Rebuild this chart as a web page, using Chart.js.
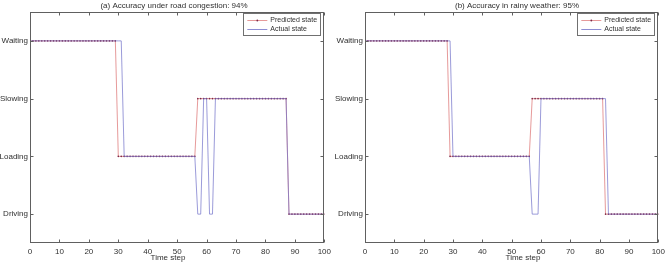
<!DOCTYPE html>
<html><head><meta charset="utf-8">
<script src="https://cdn.jsdelivr.net/npm/chart.js@4.4.1/dist/chart.umd.min.js"></script>
<style>
html,body{margin:0;padding:0;background:#fff;width:669px;height:263px;overflow:hidden}
canvas{position:absolute;top:0}
</style></head><body>
<canvas id="ca" style="left:0px" width="335" height="263"></canvas>
<canvas id="cb" style="left:335px" width="334" height="263"></canvas>
<script>
const stateNames = ['Driving', 'Loading', 'Slowing', 'Waiting'];
const xTickValues = [0, 10, 20, 30, 40, 50, 60, 70, 80, 90, 100];
const timeSteps = Array.from({length: 101}, (_, i) => i);

const titleA = '(a) Accuracy under road congestion: 94%';
const titleB = '(b) Accuracy in rainy weather: 95%';
const xLabel = 'Time step';
const legendLabels = ['Predicted state', 'Actual state'];

// state index: 0 Driving, 1 Loading, 2 Slowing, 3 Waiting
const predictedA = [
  3,3,3,3,3,3,3,3,3,3,
  3,3,3,3,3,3,3,3,3,3,
  3,3,3,3,3,3,3,3,3,3,
  1,1,1,1,1,1,1,1,1,1,
  1,1,1,1,1,1,1,1,1,1,
  1,1,1,1,1,1,1,2,2,2,
  2,2,2,2,2,2,2,2,2,2,
  2,2,2,2,2,2,2,2,2,2,
  2,2,2,2,2,2,2,2,0,0,
  0,0,0,0,0,0,0,0,0,0,
  0];
const actualA = [
  3,3,3,3,3,3,3,3,3,3,
  3,3,3,3,3,3,3,3,3,3,
  3,3,3,3,3,3,3,3,3,3,
  3,3,1,1,1,1,1,1,1,1,
  1,1,1,1,1,1,1,1,1,1,
  1,1,1,1,1,1,1,0,0,2,
  2,0,0,2,2,2,2,2,2,2,
  2,2,2,2,2,2,2,2,2,2,
  2,2,2,2,2,2,2,2,0,0,
  0,0,0,0,0,0,0,0,0,0,
  0];
const predictedB = [
  3,3,3,3,3,3,3,3,3,3,
  3,3,3,3,3,3,3,3,3,3,
  3,3,3,3,3,3,3,3,3,1,
  1,1,1,1,1,1,1,1,1,1,
  1,1,1,1,1,1,1,1,1,1,
  1,1,1,1,1,1,1,2,2,2,
  2,2,2,2,2,2,2,2,2,2,
  2,2,2,2,2,2,2,2,2,2,
  2,2,0,0,0,0,0,0,0,0,
  0,0,0,0,0,0,0,0,0,0,
  0];
const actualB = [
  3,3,3,3,3,3,3,3,3,3,
  3,3,3,3,3,3,3,3,3,3,
  3,3,3,3,3,3,3,3,3,3,
  1,1,1,1,1,1,1,1,1,1,
  1,1,1,1,1,1,1,1,1,1,
  1,1,1,1,1,1,1,0,0,0,
  2,2,2,2,2,2,2,2,2,2,
  2,2,2,2,2,2,2,2,2,2,
  2,2,2,0,0,0,0,0,0,0,
  0,0,0,0,0,0,0,0,0,0,
  0];

const predColor = '#e08080';
const predPoint = '#7a2848';
const actColor = '#7070c8';
const frameColor = '#606060';
const textColor = '#303030';
const FONT = 'Liberation Sans, Arial, sans-serif';

function makePlugin(title, titleX, labelX) {
  return {
    id: 'frame',
    afterDraw(chart) {
      const ctx = chart.ctx;
      const a = chart.chartArea;
      const xs = chart.scales.x, ys = chart.scales.y;
      ctx.save();
      ctx.strokeStyle = frameColor;
      ctx.lineWidth = 1;
      const L = Math.round(a.left) + 0.5, R = Math.round(a.right) - 0.5;
      const T = Math.round(a.top) + 0.5, B = Math.round(a.bottom) - 0.5;
      ctx.strokeRect(L, T, R - L, B - T);
      ctx.beginPath();
      xTickValues.forEach(v => {
        const px = Math.round(xs.getPixelForValue(v)) + 0.5;
        ctx.moveTo(px, B); ctx.lineTo(px, B - 3);
        ctx.moveTo(px, T); ctx.lineTo(px, T + 3);
      });
      [0, 1, 2, 3].forEach(v => {
        const py = Math.round(ys.getPixelForValue(v)) + 0.5;
        ctx.moveTo(L, py); ctx.lineTo(L + 3, py);
        ctx.moveTo(R, py); ctx.lineTo(R - 3, py);
      });
      ctx.stroke();
      ctx.fillStyle = textColor;
      ctx.font = '8px ' + FONT;
      ctx.textAlign = 'center';
      ctx.textBaseline = 'middle';
      ctx.fillText(title, titleX, 5.5);
      ctx.fillText(xLabel, labelX, 258);
      // legend
      const lx = a.right - 81, ly = 13, lw = 77, lh = 22;
      ctx.fillStyle = '#fff';
      ctx.fillRect(lx, ly, lw, lh);
      ctx.strokeStyle = '#707070';
      ctx.strokeRect(Math.round(lx) + 0.5, ly + 0.5, lw, lh);
      const y1 = 20.5, y2 = 29.5;
      ctx.lineWidth = 0.8;
      ctx.strokeStyle = predColor;
      ctx.beginPath(); ctx.moveTo(lx + 4, y1); ctx.lineTo(lx + 24, y1); ctx.stroke();
      ctx.fillStyle = predPoint;
      ctx.beginPath(); ctx.arc(lx + 14, y1, 0.9, 0, Math.PI * 2); ctx.fill();
      ctx.strokeStyle = actColor;
      ctx.beginPath(); ctx.moveTo(lx + 4, y2); ctx.lineTo(lx + 24, y2); ctx.stroke();
      ctx.fillStyle = textColor;
      ctx.font = '7px ' + FONT;
      ctx.textAlign = 'left';
      ctx.fillText(legendLabels[0], lx + 27, y1);
      ctx.fillText(legendLabels[1], lx + 27, y2);
      ctx.restore();
    }
  };
}

function makeChart(id, title, pred, act, titleX, labelX, rightPad) {
  const toPts = arr => timeSteps.map((t, i) => ({x: t, y: arr[i]}));
  new Chart(document.getElementById(id), {
    type: 'line',
    data: {
      datasets: [
        {label: legendLabels[0], data: toPts(pred), borderColor: predColor, borderWidth: 0.8,
         pointRadius: 0.8, pointBackgroundColor: predPoint, pointBorderWidth: 0,
         fill: false, tension: 0, order: 2},
        {label: legendLabels[1], data: toPts(act), borderColor: actColor, borderWidth: 0.7,
         pointRadius: 0, fill: false, tension: 0, order: 1}
      ]
    },
    options: {
      responsive: false,
      animation: false,
      devicePixelRatio: 1,
      layout: {padding: {top: 12, right: rightPad, left: 0, bottom: 0}},
      plugins: {legend: {display: false}, tooltip: {enabled: false}, title: {display: false}},
      scales: {
        x: {
          type: 'linear', min: 0, max: 100,
          grid: {display: false, drawTicks: false},
          border: {display: false},
          afterBuildTicks: s => { s.ticks = xTickValues.map(v => ({value: v})); },
          ticks: {font: {size: 8, family: FONT}, color: textColor, padding: 4, maxRotation: 0,
                  autoSkip: false, callback: v => String(v)},
          afterFit: s => { s.height = 20; }
        },
        y: {
          type: 'linear', min: -0.5, max: 3.5,
          grid: {display: false, drawTicks: false},
          border: {display: false},
          afterBuildTicks: s => { s.ticks = [0, 1, 2, 3].map(v => ({value: v})); },
          ticks: {font: {size: 8, family: FONT}, color: textColor, padding: 2,
                  autoSkip: false, callback: v => stateNames[v]},
          afterFit: s => { s.width = 30; }
        }
      }
    },
    plugins: [makePlugin(title, titleX, labelX)]
  });
}

makeChart('ca', titleA, predictedA, actualA, 174, 168, 8);
makeChart('cb', titleB, predictedB, actualB, 182, 188, 7);
</script>
</body></html>
